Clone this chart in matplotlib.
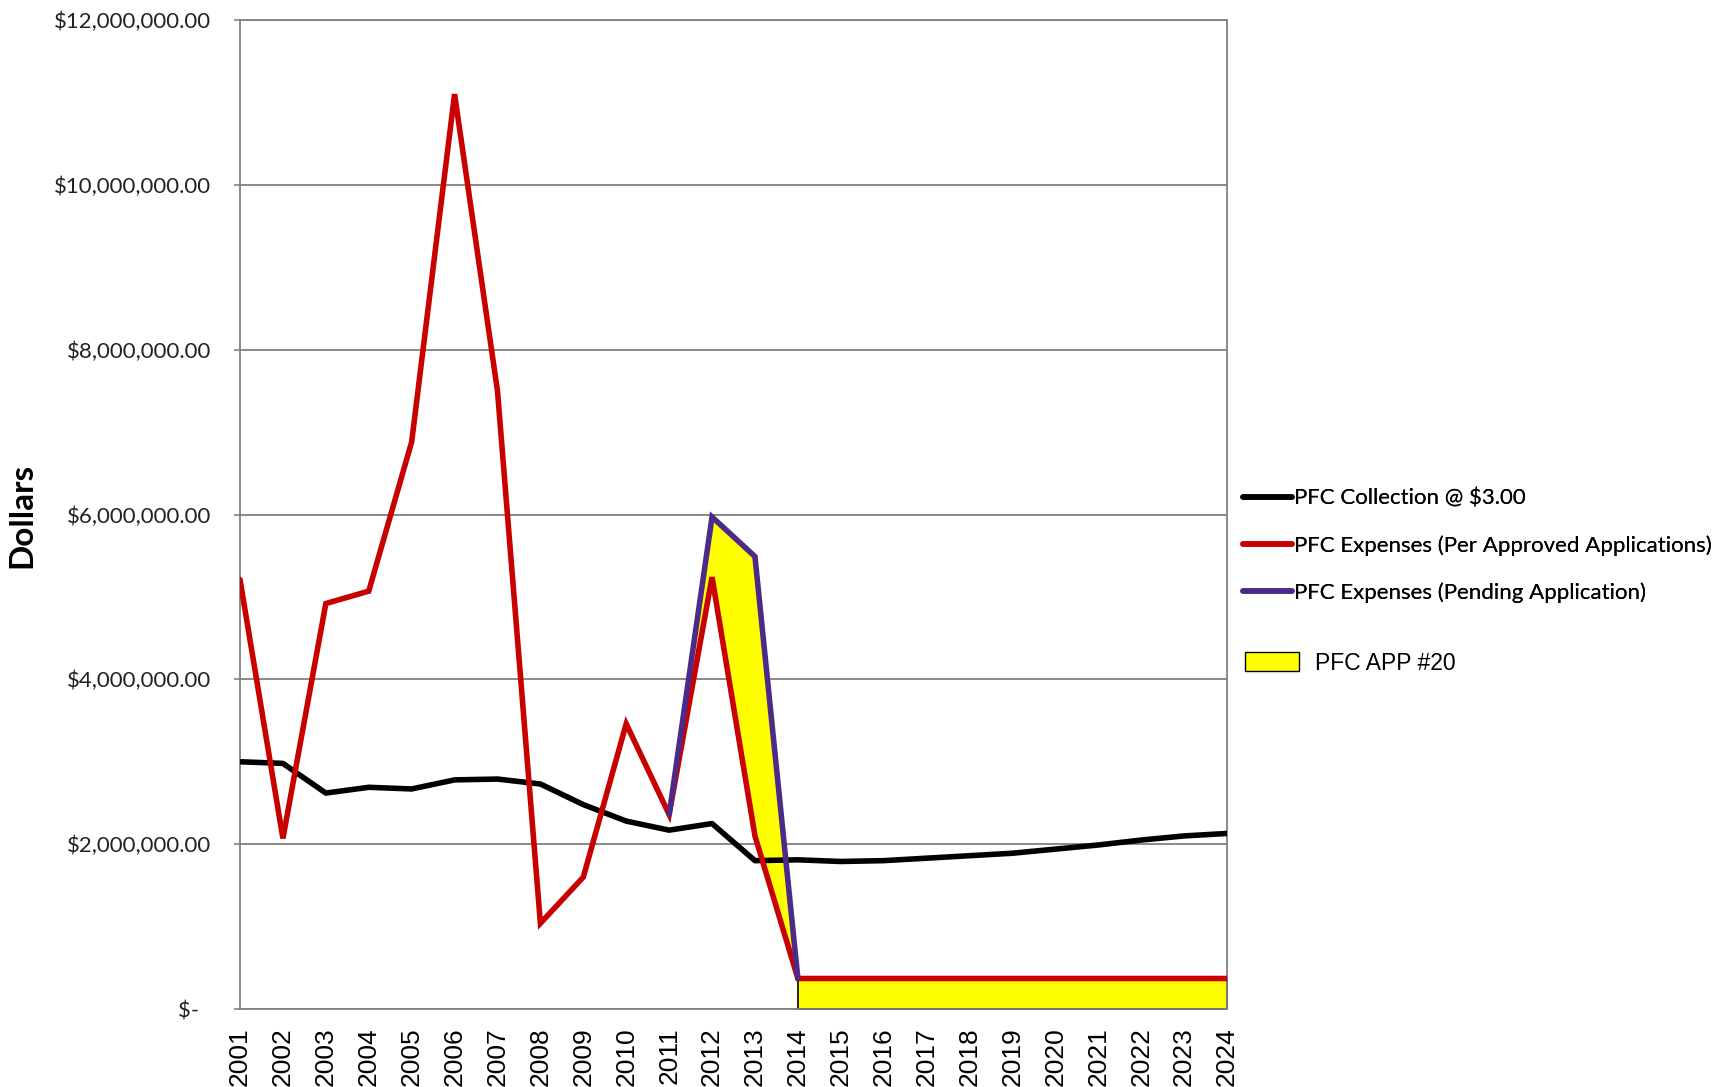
import matplotlib
matplotlib.use("Agg")
import matplotlib.pyplot as plt
from matplotlib.lines import Line2D
from matplotlib.patches import Patch
import numpy as np

years = list(range(2001, 2025))
year_labels = [str(y) for y in years]

collection = [3.00, 2.98, 2.62, 2.69, 2.67, 2.78, 2.79, 2.73, 2.48, 2.28, 2.17, 2.25,
              1.80, 1.81, 1.79, 1.80, 1.83, 1.86, 1.89, 1.94, 1.99, 2.05, 2.10, 2.13]
approved = [5.21, 2.07, 4.92, 5.07, 6.88, 11.10, 7.50, 1.04, 1.60, 3.46, 2.36, 5.24,
            2.10, 0.37, 0.37, 0.37, 0.37, 0.37, 0.37, 0.37, 0.37, 0.37, 0.37, 0.37]
pending_years = [2011, 2012, 2013, 2014]
pending = [2.36, 5.97, 5.49, 0.37]

ytick_vals = [0, 2, 4, 6, 8, 10, 12]
ytick_labels = ["$-  ", "$2,000,000.00", "$4,000,000.00", "$6,000,000.00",
                "$8,000,000.00", "$10,000,000.00", "$12,000,000.00"]

series_labels = ["PFC Collection @ $3.00",
                 "PFC Expenses (Per Approved Applications)",
                 "PFC Expenses (Pending Application)"]
area_label = "PFC APP #20"

scale = 1e6
W, H = 1734, 1087
fig = plt.figure(figsize=(W / 100, H / 100), dpi=100)
ax = fig.add_axes([240 / W, 1 - 1009 / H, (1227 - 240) / W, (1009 - 20) / H])

yrs = np.array(years)
appr = np.array(approved) * scale
coll = np.array(collection) * scale
pyrs = np.array(pending_years)
pend = np.array(pending) * scale

red = "#C80000"
purple = "#4B2A8A"
yellow = "#FFFF00"

# yellow area between pending and approved (2011-2014)
appr_sub = np.array([approved[years.index(y)] for y in pending_years]) * scale
ax.fill_between(pyrs, appr_sub, pend, color=yellow, linewidth=0, zorder=2)
# yellow area under approved from 2014 onward
mask = yrs >= 2014
ax.fill_between(yrs[mask], 0, appr[mask], facecolor=yellow, edgecolor="black",
                linewidth=1.2, zorder=2)

lw = 4.0
ax.plot(yrs, coll, color="black", lw=lw, zorder=3, solid_capstyle="round")
ax.plot(yrs, appr, color=red, lw=lw, zorder=4, solid_capstyle="round", solid_joinstyle="miter")
ax.plot(pyrs, pend, color=purple, lw=lw, zorder=5, solid_capstyle="round", solid_joinstyle="miter")

ax.set_xlim(2001, 2024)
ax.set_ylim(0, 12 * scale)
ax.set_xticks(years)
ax.set_xticklabels(year_labels, rotation=90, family="Liberation Sans", fontsize=19)
ax.set_yticks([v * scale for v in ytick_vals])
ax.set_yticklabels(ytick_labels, family="Lato", fontsize=16, color="#222222")
ax.tick_params(axis="x", length=0, pad=13)
ax.tick_params(axis="y", length=4, color="#808080", width=1.2, pad=17)
ax.grid(axis="y", color="#808080", lw=1.3, zorder=1)
ax.set_axisbelow(True)
for s in ax.spines.values():
    s.set_color("#808080")
    s.set_linewidth(1.3)

fig.text(22 / W, 1 - 515 / H, "Dollars", rotation=90, ha="center", va="center",
         family="Lato", fontweight="bold", fontsize=24)

handles = [Line2D([], [], color=c, lw=4, solid_capstyle="round")
           for c in ["black", red, purple]]
leg1 = fig.legend(handles, series_labels, loc="center left",
                  bbox_to_anchor=(1243 / W, 1 - 546 / H), frameon=False,
                  prop={"family": "Lato", "size": 16}, handlelength=2.2,
                  handletextpad=0.1, labelspacing=1.2, borderpad=0, borderaxespad=0)
fig.add_artist(leg1)
leg2 = fig.legend([Patch(facecolor=yellow, edgecolor="black", linewidth=1)], [area_label],
                  loc="center left", bbox_to_anchor=(1245 / W, 1 - 663 / H), frameon=False,
                  prop={"family": "Liberation Sans", "size": 16.5}, handlelength=2.35,
                  handleheight=0.85, handletextpad=0.7, borderpad=0, borderaxespad=0)

fig.savefig("out.png", dpi=100, facecolor="white")
